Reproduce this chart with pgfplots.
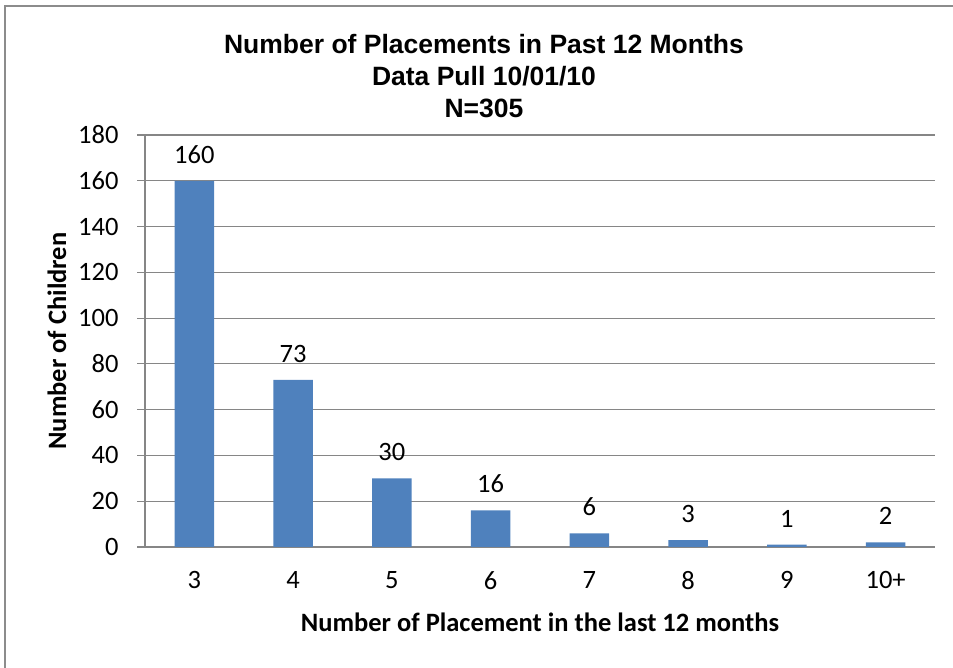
\documentclass[border=0pt]{standalone}
\usepackage{fontspec}
\setmainfont{Carlito}
\newfontfamily\arialfont{Liberation Sans}
\usepackage{pgfplots}
\pgfplotsset{compat=1.18}
\definecolor{barblue}{HTML}{4F81BD}
\definecolor{gridgray}{HTML}{868686}
\definecolor{framegray}{HTML}{8C8C8C}
\begin{document}
\begin{tikzpicture}[x=1pt,y=1pt]
\useasboundingbox (0,0) rectangle (953,668);
\draw[framegray, line width=2.5pt] (5,-5) -- (5,662) -- (960,662);
\node[align=center, font=\fontsize{26.5}{32}\selectfont\arialfont\bfseries] at (484,592)
  {Number of Placements in Past 12 Months\\Data Pull 10/01/10\\N=305};
\begin{axis}[
  at={(145pt,121pt)}, anchor=south west,
  scale only axis, width=790pt, height=412pt,
  ymin=0, ymax=180, ytick={0,20,...,180},
  xmin=-0.5, xmax=7.5, xtick={0,...,7}, xticklabels={3,4,5,6,7,8,9,10+},
  axis x line*=bottom, axis y line*=left,
  axis line style={gridgray, line width=1.2pt, -},
  ymajorgrids, grid style={gridgray, line width=1.2pt},
  tick align=outside, major tick length=8pt,
  ytick style={gridgray, line width=1.2pt},
  xtick style={draw=none},
  /pgf/number format/assume math mode=true,
  ticklabel style={font=\fontsize{26.5}{30}\selectfont},
  yticklabel style={xshift=-15pt},
  xticklabel style={yshift=-13pt},
  xlabel={Number of Placement in the last 12 months},
  ylabel={Number of Children},
  label style={font=\fontsize{26.5}{30}\selectfont\bfseries},
  xlabel style={at={(axis description cs:0.5,-0.182)}, anchor=center},
  ylabel style={at={(axis description cs:-0.1114,0.5)}, anchor=center},
  ybar, bar width=39.5pt,
  nodes near coords,
  every node near coord/.append style={font=\fontsize{26.5}{30}\selectfont, yshift=14pt},
]
\addplot[fill=barblue, draw=none] coordinates {(0,160) (1,73) (2,30) (3,16) (4,6) (5,3) (6,1) (7,2)};
\end{axis}
\end{tikzpicture}
\end{document}
